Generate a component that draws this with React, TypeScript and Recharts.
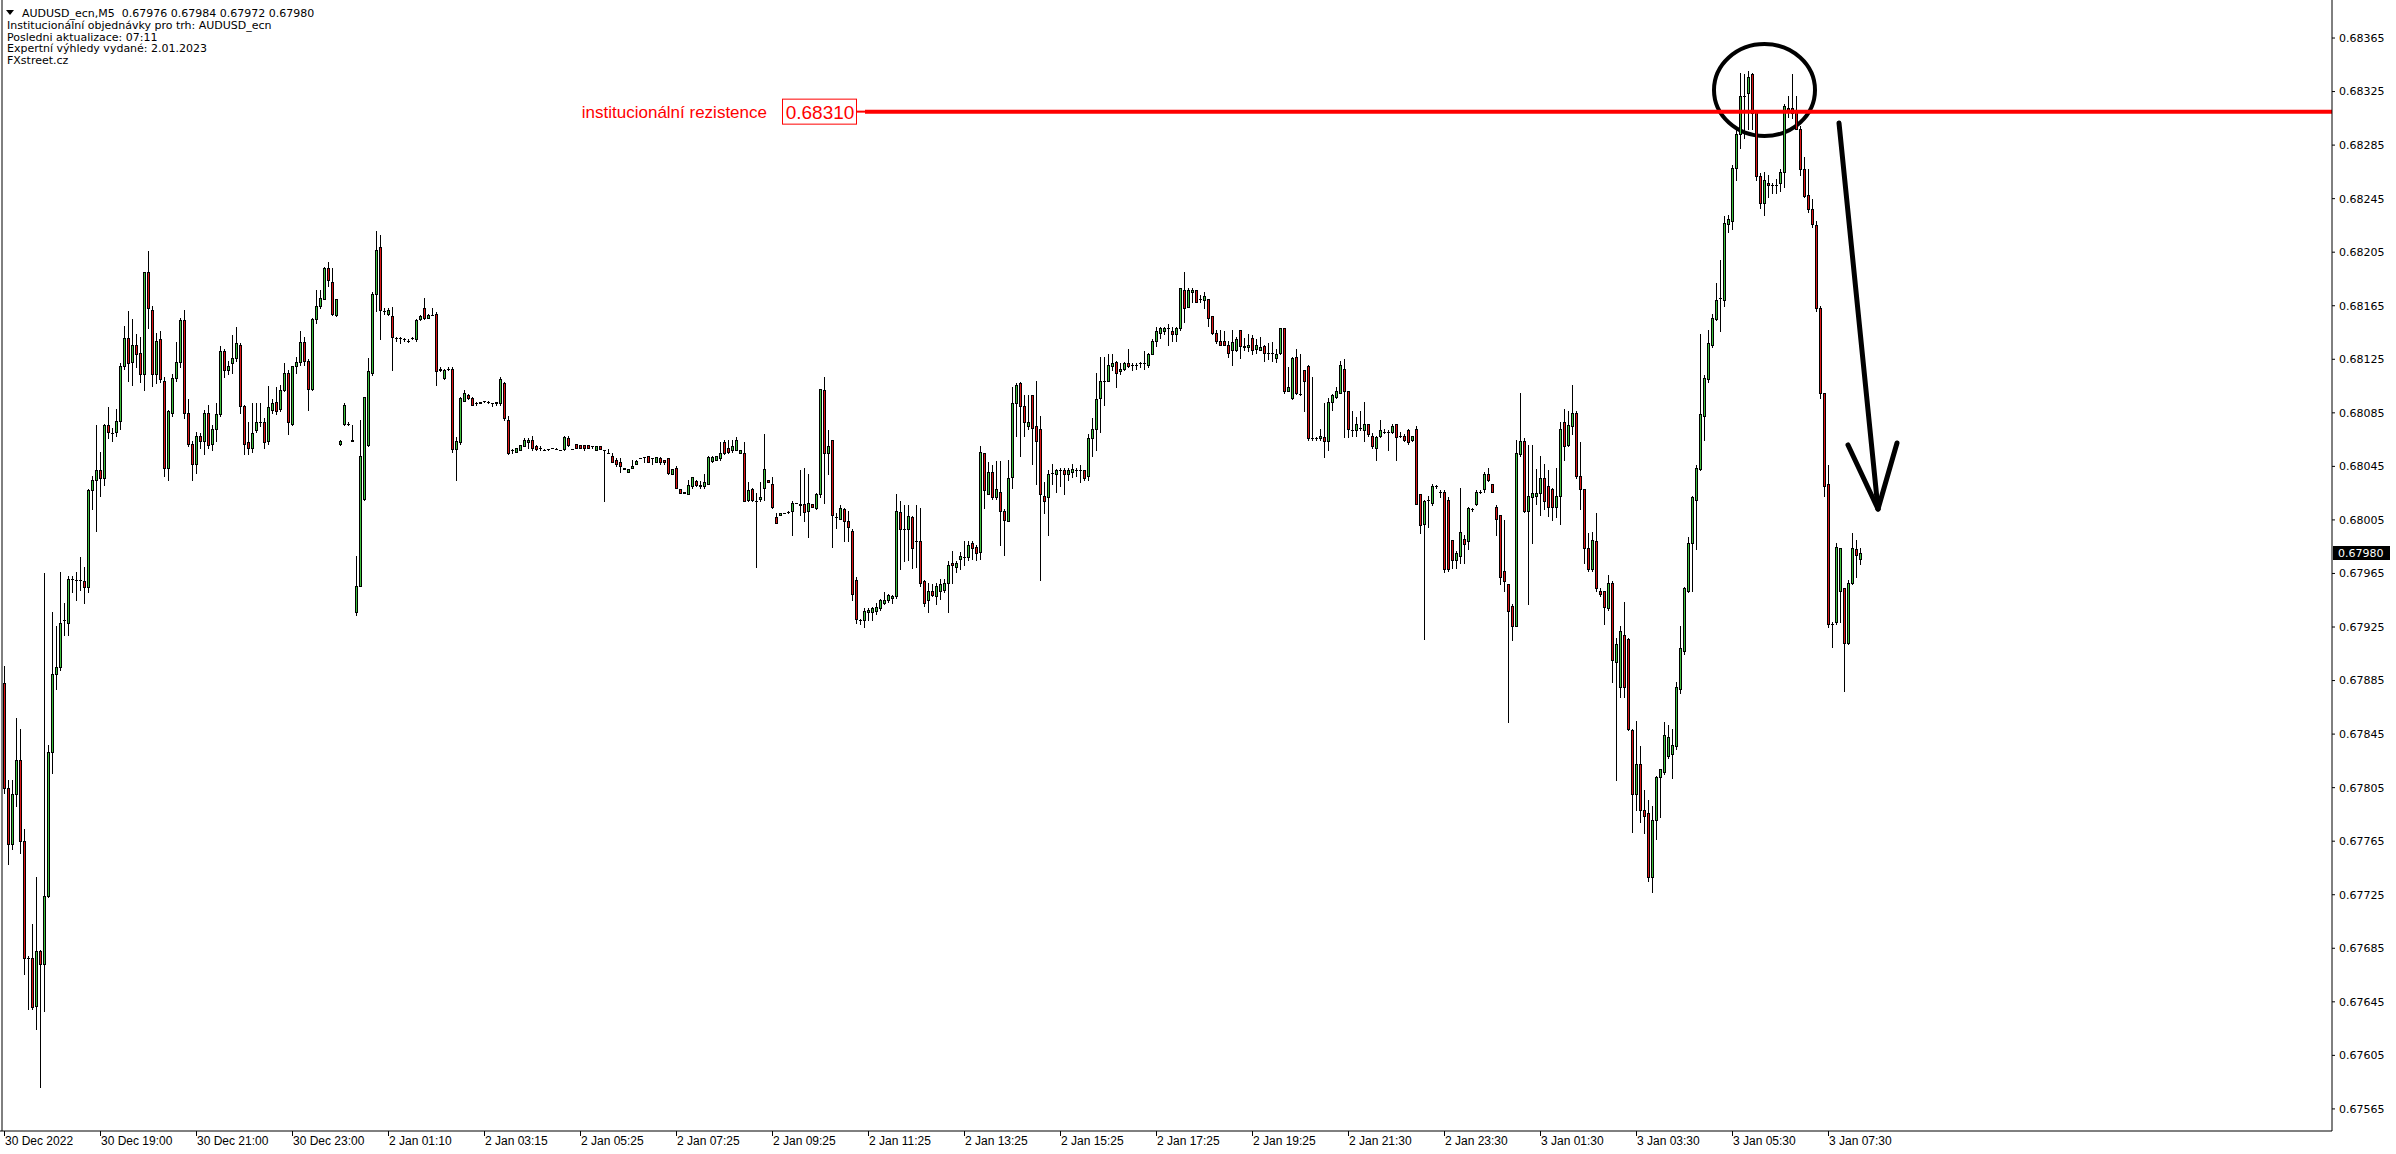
import React from "react";
import {
  ComposedChart,
  Bar,
  XAxis,
  YAxis,
  ReferenceLine,
  ReferenceDot,
  ReferenceArea,
} from "recharts";

// AUDUSD_ecn M5 candles, prices in points (1 point = 0.00001)
const symbol = "AUDUSD_ecn,M5";
const infoLines = [
  "Institucionální objednávky pro trh: AUDUSD_ecn",
  "Posledni aktualizace: 07:11",
  "Expertní výhledy vydané: 2.01.2023",
  "FXstreet.cz",
];

// one label every 24 bars (2 hours of M5)
const tickLabels = [
  "30 Dec 2022", "30 Dec 19:00", "30 Dec 21:00", "30 Dec 23:00", "2 Jan 01:10",
  "2 Jan 03:15", "2 Jan 05:25", "2 Jan 07:25", "2 Jan 09:25", "2 Jan 11:25",
  "2 Jan 13:25", "2 Jan 15:25", "2 Jan 17:25", "2 Jan 19:25", "2 Jan 21:30",
  "2 Jan 23:30", "3 Jan 01:30", "3 Jan 03:30", "3 Jan 05:30", "3 Jan 07:30",
];

const priceTicks = [
  0.68365, 0.68325, 0.68285, 0.68245, 0.68205, 0.68165, 0.68125, 0.68085, 0.68045,
  0.68005, 0.67965, 0.67925, 0.67885, 0.67845, 0.67805, 0.67765, 0.67725, 0.67685,
  0.67645, 0.67605, 0.67565,
];

const resistance = 0.6831;
const lastPrice = 0.6798;

const opens = [
  67883,67805,67763,67800,67826,67765,67678,67678,67642,67683,
  67673,67724,67832,67890,67895,67930,67928,67961,67960,67960,
  67959,67955,68027,68035,68042,68036,68076,68070,68071,68079,
  68120,68141,68123,68136,68130,68114,68190,68162,68114,68140,
  68109,68044,68085,68111,68123,68154,68085,68062,68047,68068,
  68064,68085,68062,68073,68084,68131,68117,68122,68126,68136,
  68090,68063,68059,68072,68078,68078,68064,68087,68093,68088,
  68102,68115,68077,68120,68123,68138,68124,68103,68155,68165,
  68170,68193,68183,68158,68062,68077,68077,68065,67936,67956,
  68021,68061,68115,68174,68209,68161,68159,68157,68141,68141,
  68140,68139,68141,68140,68155,68163,68156,68158,68159,68117,
  68111,68118,68118,68058,68063,68094,68098,68096,68092,68092,
  68094,68093,68092,68092,68092,68107,68080,68057,68056,68057,
  68060,68063,68065,68060,68059,68057,68058,68059,68058,68057,
  68058,68066,68058,68062,68061,68061,68061,68060,68057,68060,
  68057,68055,68053,68050,68048,68044,68041,68044,68047,68051,
  68052,68053,68051,68048,68051,68050,68051,68039,68044,68028,
  68026,68024,68030,68034,68030,68030,68032,68049,68050,68051,
  68063,68059,68057,68057,68055,68055,68020,68028,68019,68021,
  68029,68035,68032,68007,68009,68010,68011,68012,68018,68017,
  68017,68012,68017,68014,68024,68102,68055,68065,68007,68006,
  68013,68004,67997,67960,67930,67930,67936,67936,67937,67939,
  67943,67945,67947,67948,68011,67998,67998,68007,67989,67989,
  67959,67945,67952,67948,67952,67953,67958,67973,67970,67976,
  67977,67977,67988,67985,67981,68055,68024,68041,68022,68026,
  68012,68004,68037,68092,68107,68090,68075,68098,68075,68073,
  68023,68022,68040,68039,68042,68042,68039,68041,68042,68042,
  68042,68038,68066,68073,68096,68109,68109,68120,68123,68116,
  68118,68122,68121,68121,68122,68122,68121,68129,68139,68145,
  68146,68148,68146,68144,68148,68177,68164,68175,68177,68170,
  68169,68170,68157,68145,68139,68139,68136,68132,68132,68147,
  68134,68134,68141,68133,68132,68135,68130,68130,68126,68130,
  68148,68101,68096,68127,68099,68117,68120,68066,68066,68066,
  68067,68064,68093,68097,68100,68118,68101,68072,68072,68074,
  68072,68077,68068,68059,68068,68071,68071,68071,68077,68068,
  68068,68072,68065,68073,68024,68002,68020,68018,68030,68026,
  68026,68020,67990,67975,67978,67991,67989,68013,68017,68026,
  68028,68039,68032,68015,68009,67967,67957,67941,67926,68054,
  68064,68012,68022,68023,68025,68036,68030,68028,68015,68023,
  68078,68061,68075,68085,68038,68028,67984,67968,67989,67952,
  67952,67939,67958,67899,67880,67919,67916,67848,67800,67823,
  67788,67786,67738,67781,67813,67817,67829,67830,67836,67879,
  67907,67952,67988,68020,68043,68083,68110,68136,68155,68171,
  68169,68226,68228,68268,68293,68322,68324,68338,68311,68262,
  68242,68257,68255,68255,68257,68265,68313,68313,68311,68297,
  68267,68248,68237,68225,68163,68100,68032,67927,67929,67952,
  67954,67913,67958,67983,67976,
];

const highs = [
  67896,67811,67811,67857,67849,67774,67679,67703,67738,67684,
  67965,67837,67936,67926,67966,67943,67963,67963,67966,67977,
  67970,68028,68038,68076,68056,68077,68089,68074,68088,68122,
  68150,68161,68155,68144,68142,68190,68206,68165,68145,68146,
  68112,68087,68114,68138,68156,68162,68095,68064,68071,68070,
  68087,68091,68076,68092,68135,68133,68124,68143,68149,68137,
  68091,68078,68092,68092,68092,68081,68105,68095,68104,68106,
  68122,68117,68120,68127,68146,68142,68125,68156,68177,68177,
  68194,68198,68193,68170,68065,68092,68078,68076,67978,68080,
  68097,68126,68175,68221,68218,68163,68163,68164,68142,68142,
  68141,68140,68142,68155,68158,68171,68159,68163,68160,68119,
  68118,68119,68119,68067,68097,68102,68099,68097,68093,68093,
  68094,68094,68092,68093,68112,68108,68083,68058,68059,68061,
  68066,68066,68068,68061,68060,68058,68058,68059,68059,68057,
  68068,68068,68058,68062,68061,68061,68061,68060,68060,68060,
  68057,68058,68055,68051,68051,68044,68043,68050,68050,68051,
  68052,68053,68051,68052,68052,68050,68051,68043,68045,68028,
  68026,68035,68037,68035,68034,68039,68053,68053,68053,68063,
  68065,68065,68065,68067,68057,68063,68033,68029,68025,68033,
  68069,68035,68037,68010,68010,68010,68012,68019,68018,68042,
  68044,68039,68017,68025,68103,68112,68072,68065,68010,68016,
  68014,68012,67998,67962,67931,67939,67939,67940,67943,67946,
  67951,67950,67949,68024,68019,68016,68016,68008,68016,68014,
  67960,67958,67957,67958,67961,67961,67974,67982,67974,67981,
  67989,67989,67989,67986,68060,68055,68048,68046,68049,68049,
  68013,68050,68104,68107,68108,68098,68098,68098,68109,68083,
  68033,68042,68047,68043,68044,68044,68044,68047,68044,68046,
  68042,68069,68081,68115,68127,68127,68129,68129,68124,68122,
  68123,68133,68122,68122,68123,68131,68130,68140,68149,68149,
  68149,68151,68149,68149,68178,68190,68178,68178,68177,68173,
  68175,68170,68157,68147,68147,68146,68139,68147,68142,68147,
  68141,68144,68143,68140,68142,68136,68137,68138,68133,68148,
  68148,68119,68127,68133,68129,68117,68121,68112,68067,68073,
  68092,68096,68099,68104,68124,68125,68101,68086,68082,68086,
  68093,68077,68070,68068,68080,68073,68072,68077,68077,68071,
  68069,68073,68068,68075,68024,68020,68023,68032,68031,68027,
  68027,68022,67990,67982,68029,67994,68015,68014,68027,68027,
  68041,68044,68032,68016,68009,68005,67957,67942,68065,68100,
  68066,68061,68061,68043,68053,68047,68042,68029,68044,68078,
  68088,68086,68106,68086,68063,68028,67995,67996,68010,67954,
  67952,67964,67959,67917,67926,67944,67917,67849,67855,67836,
  67803,67796,67791,67814,67819,67854,67852,67849,67884,67926,
  67955,67992,68023,68046,68144,68113,68147,68159,68182,68199,
  68232,68233,68270,68296,68339,68338,68340,68339,68311,68264,
  68265,68263,68257,68260,68267,68316,68322,68338,68322,68299,
  68276,68267,68245,68228,68165,68100,68046,67929,67988,67984,
  67954,67960,67995,67990,67984,
];

const lows = [
  67801,67748,67759,67791,67756,67666,67640,67640,67625,67581,
  67638,67723,67816,67879,67893,67919,67919,67951,67945,67953,
  67943,67951,68013,67997,68023,68031,68066,68064,68068,68073,
  68118,68109,68106,68119,68108,68102,68148,68105,68107,68108,
  68038,68035,68083,68109,68119,68081,68060,68035,68040,68059,
  68054,68059,68057,68064,68083,68112,68114,68115,68124,68085,
  68054,68054,68056,68071,68075,68059,68062,68085,68084,68086,
  68101,68069,68076,68115,68121,68121,68087,68102,68152,68163,
  68170,68180,68158,68157,68061,68076,68076,68064,67934,67956,
  68020,68060,68113,68161,68140,68159,68158,68117,68139,68137,
  68139,68138,68140,68139,68154,68155,68156,68158,68106,68116,
  68110,68117,68056,68035,68062,68094,68095,68091,68091,68092,
  68093,68092,68090,68091,68091,68080,68054,68055,68056,68057,
  68060,68059,68057,68057,68057,68057,68057,68059,68058,68057,
  68057,68060,68058,68059,68059,68057,68059,68059,68057,68058,
  68019,68055,68048,68045,68041,68043,68041,68044,68047,68051,
  68048,68048,68047,68048,68047,68047,68039,68039,68029,68025,
  68025,68024,68029,68030,68029,68029,68032,68048,68050,68050,
  68054,68055,68056,68057,68055,68019,68019,68019,67970,68019,
  68020,68033,68014,68003,68009,68010,68010,67994,68018,68009,
  68004,67992,68015,68013,68022,68018,68039,67985,67999,68006,
  67989,67989,67945,67928,67927,67925,67930,67930,67935,67938,
  67942,67944,67943,67947,67968,67974,67975,67969,67970,67956,
  67941,67936,67948,67942,67946,67951,67936,67958,67966,67968,
  67971,67975,67976,67975,67976,68014,68024,68021,68021,67986,
  67979,68004,68029,68068,68053,68068,68073,68047,68032,67960,
  68010,67994,68032,68026,68030,68024,68035,68037,68038,68033,
  68035,68035,68053,68057,68071,68091,68109,68117,68104,68114,
  68117,68119,68117,68118,68119,68118,68119,68129,68135,68141,
  68144,68136,68139,68139,68147,68153,68164,68168,68168,68168,
  68163,68150,68144,68137,68136,68136,68127,68121,68131,68126,
  68132,68131,68129,68130,68132,68124,68125,68124,68123,68129,
  68100,68101,68095,68099,68098,68086,68065,68065,68065,68065,
  68052,68057,68087,68096,68100,68067,68067,68068,68068,68072,
  68064,68068,68059,68050,68067,68070,68057,68070,68050,68067,
  68064,68062,68064,68017,67995,67916,68000,68016,68029,68022,
  67966,67967,67969,67969,67973,67973,67983,68012,68016,68025,
  68026,68034,68026,67994,67957,67952,67854,67915,67926,68053,
  68011,67942,67988,68017,68009,68013,68008,68005,68007,68002,
  68050,68060,68069,68036,68013,67973,67967,67967,67952,67948,
  67927,67938,67884,67811,67873,67873,67848,67772,67788,67779,
  67771,67735,67727,67767,67783,67815,67827,67812,67834,67876,
  67905,67951,67952,67983,68042,68065,68108,68134,68154,68146,
  68165,68220,68222,68259,68283,68290,68297,68297,68259,68238,
  68233,68246,68249,68249,68251,68254,68306,68305,68297,68263,
  68246,68235,68224,68161,68096,68023,67925,67910,67927,67929,
  67877,67912,67957,67962,67972,
];

const closes = [
  67805,67763,67800,67826,67765,67678,67678,67641,67683,67673,
  67724,67832,67890,67895,67928,67930,67961,67961,67960,67960,
  67955,68027,68035,68042,68036,68076,68071,68070,68079,68120,
  68141,68122,68136,68129,68114,68190,68163,68114,68139,68110,
  68044,68086,68111,68123,68154,68085,68062,68047,68068,68064,
  68085,68061,68073,68084,68131,68117,68120,68126,68137,68090,
  68062,68059,68070,68078,68078,68063,68089,68092,68086,68102,
  68115,68078,68120,68123,68138,68124,68103,68155,68165,68171,
  68193,68184,68159,68170,68064,68091,68077,68064,67956,68053,
  68097,68116,68174,68207,68162,68161,68162,68142,68141,68141,
  68140,68139,68141,68154,68157,68156,68158,68158,68116,68118,
  68117,68118,68058,68064,68096,68100,68096,68091,68092,68093,
  68094,68093,68092,68093,68110,68081,68055,68057,68059,68061,
  68065,68065,68059,68058,68059,68057,68058,68059,68058,68057,
  68067,68061,68058,68059,68059,68059,68059,68060,68060,68058,
  68057,68055,68048,68047,68045,68043,68043,68045,68049,68051,
  68052,68048,68051,68052,68048,68048,68040,68043,68029,68025,
  68025,68031,68037,68031,68031,68033,68052,68052,68053,68055,
  68055,68056,68060,68065,68057,68019,68027,68020,68019,68022,
  68043,68033,68015,68003,68010,68010,68011,68018,68018,68016,
  68011,68018,68015,68024,68103,68055,68060,68009,68007,68014,
  68004,68000,67950,67931,67930,67937,67938,67939,67940,67945,
  67945,67949,67948,68012,67998,67998,68008,67984,67989,67958,
  67943,67952,67949,67956,67957,67958,67971,67971,67973,67978,
  67977,67986,67984,67980,68056,68027,68041,68022,68028,68012,
  68005,68036,68092,68106,68090,68078,68078,68074,68064,68024,
  68019,68039,68040,68042,68042,68039,68042,68043,68042,68042,
  68036,68066,68073,68095,68109,68109,68121,68122,68115,68118,
  68122,68120,68121,68121,68122,68122,68129,68139,68146,68148,
  68148,68148,68144,68148,68178,68163,68177,68177,68168,68170,
  68172,68156,68145,68139,68136,68136,68130,68138,68140,68135,
  68135,68136,68132,68136,68134,68130,68130,68130,68129,68148,
  68101,68104,68126,68100,68099,68109,68066,68066,68066,68068,
  68064,68093,68098,68101,68121,68101,68073,68072,68077,68074,
  68077,68069,68060,68067,68072,68071,68071,68075,68067,68068,
  68065,68063,68068,68017,68001,68019,68020,68030,68030,68026,
  67968,67968,67975,67980,67996,67987,68014,68013,68026,68026,
  68039,68035,68026,68006,67962,67959,67937,67926,68055,68064,
  68012,68023,68025,68025,68036,68019,68015,68015,68023,68073,
  68060,68076,68085,68038,68028,67984,67968,67990,67954,67950,
  67940,67958,67900,67912,67922,67880,67849,67800,67823,67788,
  67784,67738,67781,67813,67819,67844,67843,67837,67880,67909,
  67954,67988,68022,68044,68084,68111,68137,68156,68169,68171,
  68227,68230,68268,68293,68322,68322,68336,68309,68262,68242,
  68259,68255,68255,68255,68265,68314,68310,68309,68297,68267,
  68247,68237,68226,68163,68100,68030,67927,67927,67985,67984,
  67913,67958,67984,67979,67980,
];

const PT = 1e-5;
const data = closes.map((c, i) => ({
  i,
  o: opens[i] * PT,
  h: highs[i] * PT,
  l: lows[i] * PT,
  c: c * PT,
}));
const last = data[data.length - 1];
const headline = `${symbol}  ${last.o.toFixed(5)} ${last.h.toFixed(5)} ${last.l.toFixed(5)} ${last.c.toFixed(5)}`;
const tickIdx = tickLabels.map((_, k) => k * 24);

const W = 2396;
const H = 1154;
const GREEN = "#3cc03c";
const RED = "#dc1414";
const FONT = "'Liberation Sans', Arial, sans-serif";
const FONT_T = "'DejaVu Sans', Verdana, sans-serif";

function Candle(props: any) {
  const { x, y, width, height, payload } = props;
  if (x == null || y == null || !payload) return null;
  const cx = Math.round(x + width / 2);
  const top = Math.min(y, y + height);
  const span = Math.abs(height);
  const { o, h, l, c } = payload;
  const toY = (p: number) => (h > l ? top + ((h - Math.min(h, Math.max(l, p))) / (h - l)) * span : top);
  const yHi = Math.round(top);
  const yLo = Math.round(top + span);
  const yO = Math.round(toY(o));
  const yC = Math.round(toY(c));
  const bTop = Math.min(yO, yC);
  const bBot = Math.max(yO, yC);
  return (
    <g>
      <rect x={cx} y={yHi} width={1} height={Math.max(1, yLo - yHi + 1)} fill="#000" />
      <rect x={cx - 1} y={bTop} width={3} height={bBot - bTop + 1} fill="#000" />
      {bBot - bTop >= 2 && (
        <rect x={cx} y={bTop + 1} width={1} height={bBot - bTop - 1} fill={c > o ? GREEN : RED} />
      )}
    </g>
  );
}

const XTick = (props: any) => {
  const { x, y, payload } = props;
  const k = Math.round(payload.value / 24);
  return (
    <g>
      <line x1={x + 0.5} y1={y} x2={x + 0.5} y2={y + 5} stroke="#000" />
      <text x={x + 1} y={y + 14} fontSize={12} fontFamily={FONT} fill="#000">
        {tickLabels[k]}
      </text>
    </g>
  );
};

const ResLabel = (props: any) => {
  const { cx, cy } = props;
  return (
    <g>
      <text x={cx - 90} y={cy + 6} textAnchor="end" fontSize={17} fontFamily={FONT} fill="#ff0000">
        institucionální rezistence
      </text>
      <rect x={cx - 74.5} y={cy - 12.5} width={74} height={25} fill="#fff" stroke="#ff0000" />
      <text x={cx - 37} y={cy + 7} textAnchor="middle" fontSize={19} fontFamily={FONT} fill="#ff0000">
        {resistance.toFixed(5)}
      </text>
    </g>
  );
};

const PriceBox = (props: any) => {
  const { cx, cy } = props;
  return (
    <g>
      <rect x={cx + 1} y={Math.round(cy) - 7} width={57} height={14} fill="#000" />
      <text x={cx + 6} y={Math.round(cy) + 4} fontSize={11} fontFamily={FONT_T} fill="#fff">
        {lastPrice.toFixed(5)}
      </text>
    </g>
  );
};

const Ellipse = (props: any) => {
  const { x, y, width, height } = props;
  return (
    <ellipse
      cx={x + width / 2}
      cy={y + height / 2}
      rx={width / 2}
      ry={height / 2}
      fill="none"
      stroke="#000"
      strokeWidth={4}
    />
  );
};

const arrowTip = { x: 468.5, y: 0.680132 };

export default function App() {
  return (
    <div style={{ position: "absolute", left: 0, top: 0, width: W, height: H, background: "#fff" }}>
      <ComposedChart width={W} height={H} data={data} margin={{ top: 0, right: 0, bottom: 0, left: 0 }}>
        <XAxis
          dataKey="i"
          type="number"
          domain={[-1, 582]}
          ticks={tickIdx}
          interval={0}
          height={23}
          tickSize={0}
          tickMargin={0}
          tickLine={false}
          axisLine={{ stroke: "#000" }}
          tick={<XTick />}
        />
        <YAxis
          orientation="right"
          type="number"
          domain={[0.675485, 0.683934]}
          ticks={priceTicks}
          interval={0}
          width={64}
          tickSize={3}
          tickMargin={4}
          stroke="#000"
          tickFormatter={(v: number) => v.toFixed(5)}
          tick={{ fontSize: 11, fill: "#000", fontFamily: FONT_T }}
        />
        <ReferenceLine x={-0.5} stroke="#000" ifOverflow="visible" />
        <Bar
          dataKey={(d: any) => [d.l, d.h]}
          barSize={3}
          isAnimationActive={false}
          shape={(p: any) => <Candle {...p} />}
        />
        <ReferenceLine
          segment={[{ x: 213.25, y: resistance }, { x: 215.5, y: resistance }]}
          stroke="#ff0000"
          strokeWidth={2}
          ifOverflow="visible"
        />
        <ReferenceLine
          segment={[{ x: 215.25, y: resistance }, { x: 582, y: resistance }]}
          stroke="#ff0000"
          strokeWidth={4}
          ifOverflow="visible"
        />
        <ReferenceDot x={213.25} y={resistance} r={0} ifOverflow="visible" shape={(p: any) => <ResLabel {...p} />} />
        <ReferenceArea
          x1={427.5}
          x2={452.75}
          y1={0.682918}
          y2={0.683605}
          ifOverflow="visible"
          shape={(p: any) => <Ellipse {...p} />}
        />
        <ReferenceLine
          segment={[{ x: 458.75, y: 0.683015 }, arrowTip]}
          stroke="#000"
          strokeWidth={5}
          strokeLinecap="round"
          ifOverflow="visible"
        />
        <ReferenceLine
          segment={[{ x: 461, y: 0.68061 }, arrowTip]}
          stroke="#000"
          strokeWidth={5}
          strokeLinecap="round"
          ifOverflow="visible"
        />
        <ReferenceLine
          segment={[{ x: 473.25, y: 0.680625 }, arrowTip]}
          stroke="#000"
          strokeWidth={5}
          strokeLinecap="round"
          ifOverflow="visible"
        />
        <ReferenceDot x={582} y={lastPrice} r={0} ifOverflow="visible" shape={(p: any) => <PriceBox {...p} />} />
      </ComposedChart>
      <svg width={460} height={72} style={{ position: "absolute", left: 0, top: 0 }}>
        <polygon points="6,10 14,10 10,15" fill="#000" />
        <text x={22} y={16.5} fontSize={11} fontFamily={FONT_T} fill="#000" style={{ whiteSpace: "pre" }}>
          {headline}
        </text>
        {infoLines.map((t, k) => (
          <text key={k} x={7} y={29 + k * 11.6} fontSize={11} fontFamily={FONT_T} fill="#000">
            {t}
          </text>
        ))}
      </svg>
    </div>
  );
}
